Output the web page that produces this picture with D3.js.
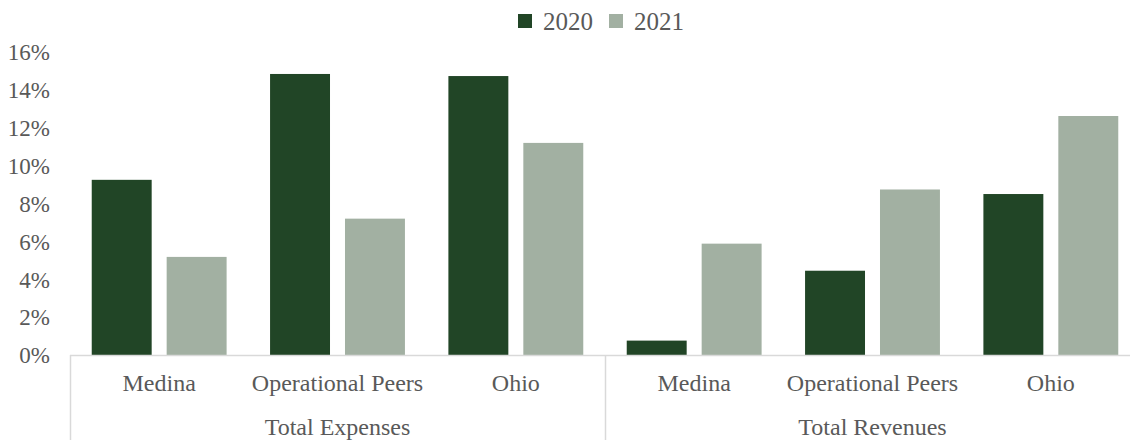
<!DOCTYPE html>
<html>
<head>
<meta charset="utf-8">
<script src="https://cdn.jsdelivr.net/npm/d3@7"></script>
<style>
  html, body { margin: 0; padding: 0; background: #ffffff; }
  svg text { font-family: "Liberation Serif", "Times New Roman", Times, "DejaVu Serif", serif; fill: #595959; }
</style>
</head>
<body>
<svg id="chart" width="1130" height="440" font-family="Liberation Serif, Times New Roman, serif"></svg>
<script>
// Growth rates by measure and comparison group
const groups = ["Total Expenses", "Total Revenues"];
const entities = ["Medina", "Operational Peers", "Ohio"];
const years = ["2020", "2021"];
const values2020 = [0.0925, 0.1484, 0.1473, 0.0076, 0.0445, 0.085];
const values2021 = [0.0518, 0.072, 0.112, 0.0588, 0.0874, 0.1262];
const yTicks = [0, 0.02, 0.04, 0.06, 0.08, 0.10, 0.12, 0.14, 0.16];
const colors = ["#214526", "#a2b0a2"];
const serif = "'Liberation Serif', 'Times New Roman', Times, 'DejaVu Serif', serif";

const rows = [];
groups.forEach((g, gi) => {
  entities.forEach((e, ei) => {
    const i = gi * entities.length + ei;
    rows.push({ key: g + "|" + e, group: g, entity: e, values: [values2020[i], values2021[i]] });
  });
});

const svg = d3.select("#chart");
const plotLeft = 70, plotRight = 1140, plotBase = 355, plotTop = 52;

const x0 = d3.scaleBand().domain(rows.map(d => d.key)).range([plotLeft, plotRight]).padding(0);
const x1 = d3.scaleBand().domain(years).range([0, x0.bandwidth()]).paddingInner(0.2).paddingOuter(0.29);
const y = d3.scaleLinear().domain([0, 0.16]).range([plotBase, plotTop]);
const color = d3.scaleOrdinal().domain(years).range(colors);

// bars
const barLayer = svg.append("g");
rows.forEach(r => {
  barLayer.selectAll(null)
    .data(years.map((yr, i) => ({ yr, v: r.values[i] })))
    .join("rect")
    .attr("x", d => x0(r.key) + x1(d.yr))
    .attr("width", x1.bandwidth())
    .attr("y", d => y(d.v))
    .attr("height", d => plotBase - y(d.v))
    .attr("fill", d => color(d.yr));
});

// value axis (labels only)
const yAxis = d3.axisLeft(y).tickValues(yTicks).tickFormat(d3.format(".0%")).tickSize(0).tickPadding(0);
const ya = svg.append("g").attr("transform", "translate(50,0)").call(yAxis);
ya.attr("font-family", serif).attr("font-size", 23);
ya.select(".domain").remove();
ya.selectAll("text").style("font-family", serif).style("font-size", "23px").attr("fill", "#595959").attr("dy", "0.34em");

// category axis line and group separators
svg.append("line").attr("x1", plotLeft).attr("x2", plotRight).attr("y1", plotBase + 0.5).attr("y2", plotBase + 0.5)
  .attr("stroke", "#d9d9d9").attr("stroke-width", 1.5);
const groupBounds = groups.map(gname => {
  const keys = rows.filter(r => r.group === gname).map(r => r.key);
  return { name: gname, x0: x0(keys[0]), x1: x0(keys[keys.length - 1]) + x0.bandwidth() };
});
groupBounds.forEach(b => {
  svg.append("line").attr("x1", b.x0 + 0.5).attr("x2", b.x0 + 0.5).attr("y1", plotBase).attr("y2", 440)
    .attr("stroke", "#d9d9d9").attr("stroke-width", 1.5);
});

// entity labels
svg.append("g").selectAll("text").data(rows).join("text")
  .attr("x", d => x0(d.key) + x0.bandwidth() / 2)
  .attr("y", 391)
  .attr("text-anchor", "middle")
  .style("font-family", serif).style("font-size", "24px")
  .text(d => d.entity);

// group labels
svg.append("g").selectAll("text").data(groupBounds).join("text")
  .attr("x", d => (d.x0 + d.x1) / 2)
  .attr("y", 435)
  .attr("text-anchor", "middle")
  .style("font-family", serif).style("font-size", "24px")
  .text(d => d.name);

// legend
const legend = svg.append("g");
const legendX = [518, 609];
years.forEach((yr, i) => {
  legend.append("rect").attr("x", legendX[i]).attr("y", 14).attr("width", 14).attr("height", 14).attr("fill", color(yr));
  legend.append("text").attr("x", legendX[i] + 25).attr("y", 30)
    .style("font-family", serif).style("font-size", "25px").text(yr);
});
</script>
</body>
</html>
